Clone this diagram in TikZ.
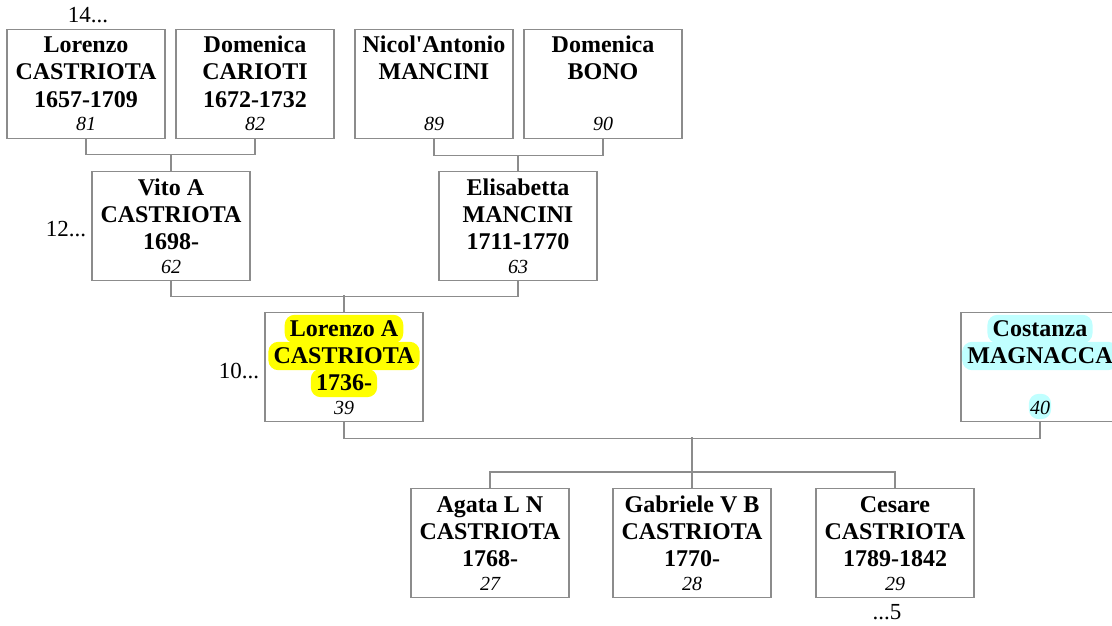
\documentclass[tikz,border=0pt]{standalone}
\usepackage{fontspec}
\setmainfont{Liberation Serif}
\usepackage{xcolor}
\definecolor{frame}{HTML}{8C8C8C}
\definecolor{marky}{HTML}{FFFF00}
\definecolor{markc}{HTML}{C0FFFF}
\usepackage{tikz}
\usetikzlibrary{positioning}
\pgfdeclarelayer{bg}
\pgfsetlayers{bg,main}

% one person: box, three name lines and the number
\newcommand\person[6]{%
  \node[pbox] (#1) at (#2) {};
  \node[nline] (#1-1) at ([yshift=-24pt]#1.north) {#3};
  \node[nline] (#1-2) at ([yshift=-51pt]#1.north) {#4};
  \node[nline] (#1-3) at ([yshift=-78pt]#1.north) {#5};
  \node[nnum] (#1-n) at ([yshift=-102pt]#1.north) {#6};
}

\begin{document}
\begin{tikzpicture}[x=1pt,y=-1pt,
  pbox/.style={draw=frame,line width=1.2pt,anchor=north,minimum width=158pt,minimum height=109pt,inner sep=0pt},
  nline/.style={anchor=base,font=\fontsize{24pt}{27pt}\selectfont\bfseries,inner xsep=5pt,inner ysep=0pt,
                text height=21pt,text depth=7pt},
  nnum/.style={anchor=base,font=\fontsize{20pt}{24pt}\selectfont\itshape,inner xsep=1pt,inner ysep=0pt,
               text height=20pt,text depth=5pt},
  more/.style={font=\fontsize{23pt}{26pt}\selectfont,inner sep=0pt},
  link/.style={draw=frame,line width=1.2pt},
  hly/.style={fill=marky,rounded corners=10pt},
  hlc/.style={fill=markc,rounded corners=10pt}]
\useasboundingbox (0,0) rectangle (1112,626);
\person{p81}{86,29}{Lorenzo}{CASTRIOTA}{1657-1709}{81}
\person{p82}{255,29}{Domenica}{CARIOTI}{1672-1732}{82}
\person{p89}{434,29}{Nicol\textquotesingle Antonio}{MANCINI}{}{89}
\person{p90}{603,29}{Domenica}{BONO}{}{90}
\person{p62}{171,171}{Vito A}{CASTRIOTA}{1698-}{62}
\person{p63}{518,171}{Elisabetta}{MANCINI}{1711-1770}{63}
\person{p39}{344,312}{Lorenzo A}{CASTRIOTA}{1736-}{39}
\person{p40}{1040,312}{Costanza}{MAGNACCA}{}{40}
\person{p27}{490,488}{Agata L N}{CASTRIOTA}{1768-}{27}
\person{p28}{692,488}{Gabriele V B}{CASTRIOTA}{1770-}{28}
\person{p29}{895,488}{Cesare}{CASTRIOTA}{1789-1842}{29}
% highlights behind the text
\begin{pgfonlayer}{bg}
  \foreach \l in {1,2,3} \fill[hly] (p39-\l.south west) rectangle (p39-\l.north east);
  \foreach \l in {1,2,n} \fill[hlc] (p40-\l.south west) rectangle (p40-\l.north east);
\end{pgfonlayer}
% more generations
\node[more,anchor=base] (up81) at ([xshift=2pt,yshift=6pt]p81.north) {14...};
\node[more,anchor=base east] (up62) at ([xshift=-5pt,yshift=-10.5pt]p62.west) {12...};
\node[more,anchor=base east] (up39) at ([xshift=-5pt,yshift=-11.5pt]p39.west) {10...};
\node[more,anchor=base] (down29) at ([xshift=-8pt,yshift=-21pt]p29.south) {...5};
% couples and children
\draw[link] (p81.south) -- ++(0,15) -| (p82.south);
\draw[link] (p62.north) -- ++(0,-17);
\draw[link] (p89.south) -- ++(0,16) -| (p90.south);
\draw[link] (p63.north) -- ++(0,-16);
\draw[link] (p62.south) -- ++(0,15) -| (p63.south);
\draw[link] (p39.north) -- ++(0,-17);
\draw[link] (p39.south) -- ++(0,16) -| (p40.south);
\draw[link] (p27.north) -- ++(0,-16) -| (p29.north);
\draw[link] (p28.north) -- ++(0,-51);
\end{tikzpicture}
\end{document}
